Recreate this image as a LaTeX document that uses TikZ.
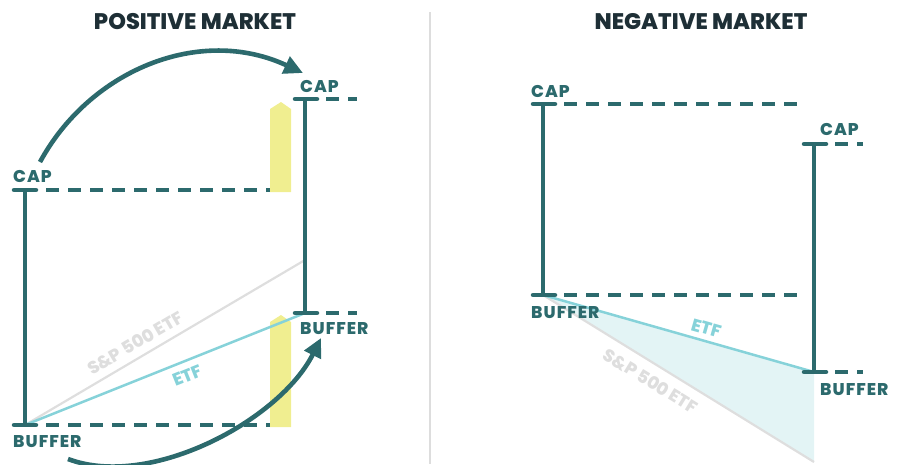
\documentclass[tikz,border=0pt]{standalone}
\usepackage{fontspec}
\setmainfont{Poppins}[BoldFont={Poppins ExtraBold}]
\usetikzlibrary{arrows.meta}
\definecolor{tealdark}{HTML}{2C6A6D}
\definecolor{titlecol}{HTML}{1E2F36}
\definecolor{etfcol}{HTML}{86D2D9}
\definecolor{spcol}{HTML}{DEDEDE}
\definecolor{shadecol}{HTML}{E3F4F5}
\definecolor{yellowcol}{HTML}{F0EE90}
\definecolor{divcol}{HTML}{DDDDDD}
\tikzset{
  titletext/.style={inner sep=0pt, text=titlecol, font=\fontsize{22.5}{22.5}\selectfont\bfseries},
  lbl/.style={inner sep=0pt, text=tealdark, font=\fontsize{17}{17}\selectfont\bfseries\addfontfeatures{LetterSpace=6}},
  barline/.style={draw=tealdark, line width=3.5pt},
  tickline/.style={draw=tealdark, line width=4.5pt, line cap=round},
  dashline/.style={draw=tealdark, line width=4pt, dash pattern=on 13pt off 9pt},
  spline/.style={draw=spcol, line width=2.2pt},
  etfline/.style={draw=etfcol, line width=2.5pt},
  sptext/.style={text=spcol, font=\fontsize{17.5}{17.5}\selectfont\bfseries, inner sep=0pt},
  etftext/.style={text=etfcol, font=\fontsize{17.5}{17.5}\selectfont\bfseries, inner sep=0pt},
  bigarrow/.style={draw=tealdark, line width=4.6pt, -{Triangle[length=19pt,width=18pt]}},
  yellowbar/.style={fill=yellowcol, draw=none},
}
\begin{document}
\begin{tikzpicture}[x=1pt,y=-1pt]
\useasboundingbox (0,0) rectangle (900,464);
\clip (0,0) rectangle (900,464);
% divider
\coordinate (dvT) at (430,12);
\coordinate (dvB) at (430,464);
\draw[divcol, line width=1.5pt] (dvT) -- (dvB);

% ================= POSITIVE MARKET =================
\node[titletext, anchor=base] (t1) at (195,29) {POSITIVE MARKET};

\coordinate (Lc) at (25,190);
\coordinate (Lb) at (25,425);
\coordinate (Rc) at (305,99);
\coordinate (Rb) at (305,313);
\coordinate (Rs) at (305,260);

% yellow bars
\fill[yellowcol] (270,192) -- (270,109) -- (281,102) -- (291,109) -- (291,192) -- cycle;
\fill[yellowcol] (270,427) -- (270,322) -- (281,315) -- (291,322) -- (291,427) -- cycle;

% lines
\draw[spline] (Lb) -- node[sptext, pos=0.42, sloped, above=7pt] (sp1) {S\&P 500 ETF} (Rs);
\draw[etfline] (Lb) -- node[etftext, pos=0.56, sloped, below=7pt] (etf1) {ETF} (Rb);

% bars
\draw[barline] (Lc) -- (Lb);
\draw[barline] (Rc) -- (Rb);
\draw[tickline] (14,190) -- (36,190);
\draw[dashline] (46,190) -- (270,190);
\draw[tickline] (14,425) -- (36,425);
\draw[dashline] (46,425) -- (270,425);
\draw[tickline] (295,99) -- (317,99);
\draw[dashline] (326,99) -- (357,99);
\draw[tickline] (295,313) -- (317,313);
\draw[dashline] (326,313) -- (357,313);

% labels
\node[lbl, anchor=base west] (cap1) at (13,182) {CAP};
\node[lbl, anchor=base west] (buf1) at (13,447) {BUFFER};
\node[lbl, anchor=base west] (cap2) at (300,92) {CAP};
\node[lbl, anchor=base west] (buf2) at (300,334) {BUFFER};

% arrows
\coordinate (a1s) at (40,162);
\coordinate (a1e) at (303,73);
\draw[bigarrow] (a1s) .. controls (90,70) and (200,25) .. (a1e);
\coordinate (a2s) at (68,459);
\coordinate (a2e) at (321,338);
\draw[bigarrow] (a2s) .. controls (150,490) and (280,420) .. (a2e);

% ================= NEGATIVE MARKET =================
\node[titletext, anchor=base] (t2) at (701,29) {NEGATIVE MARKET};

\coordinate (NLc) at (543,104);
\coordinate (NLb) at (543,295);
\coordinate (NRc) at (814,144);
\coordinate (NRb) at (814,372);
\coordinate (NRs) at (814,462);

\fill[shadecol] (NLb) -- (NRb) -- (NRs) -- cycle;
\draw[spline] (NLb) -- node[sptext, pos=0.43, sloped, below=9pt] (sp2) {S\&P 500 ETF} (NRs);
\draw[etfline] (NLb) -- node[etftext, pos=0.59, sloped, above=5pt] (etf2) {ETF} (NRb);

\draw[barline] (NLc) -- (NLb);
\draw[barline] (NRc) -- (NRb);
\draw[tickline] (533,104) -- (555,104);
\draw[dashline] (564,104) -- (798,104);
\draw[tickline] (533,295) -- (555,295);
\draw[dashline] (564,295) -- (798,295);
\draw[tickline] (804,144) -- (826,144);
\draw[dashline] (835,144) -- (863,144);
\draw[tickline] (804,372) -- (826,372);
\draw[dashline] (835,372) -- (863,372);

\node[lbl, anchor=base west] (cap3) at (531,97) {CAP};
\node[lbl, anchor=base west] (buf3) at (531,318) {BUFFER};
\node[lbl, anchor=base west] (cap4) at (820,135) {CAP};
\node[lbl, anchor=base west] (buf4) at (820,395) {BUFFER};
\end{tikzpicture}
\end{document}
